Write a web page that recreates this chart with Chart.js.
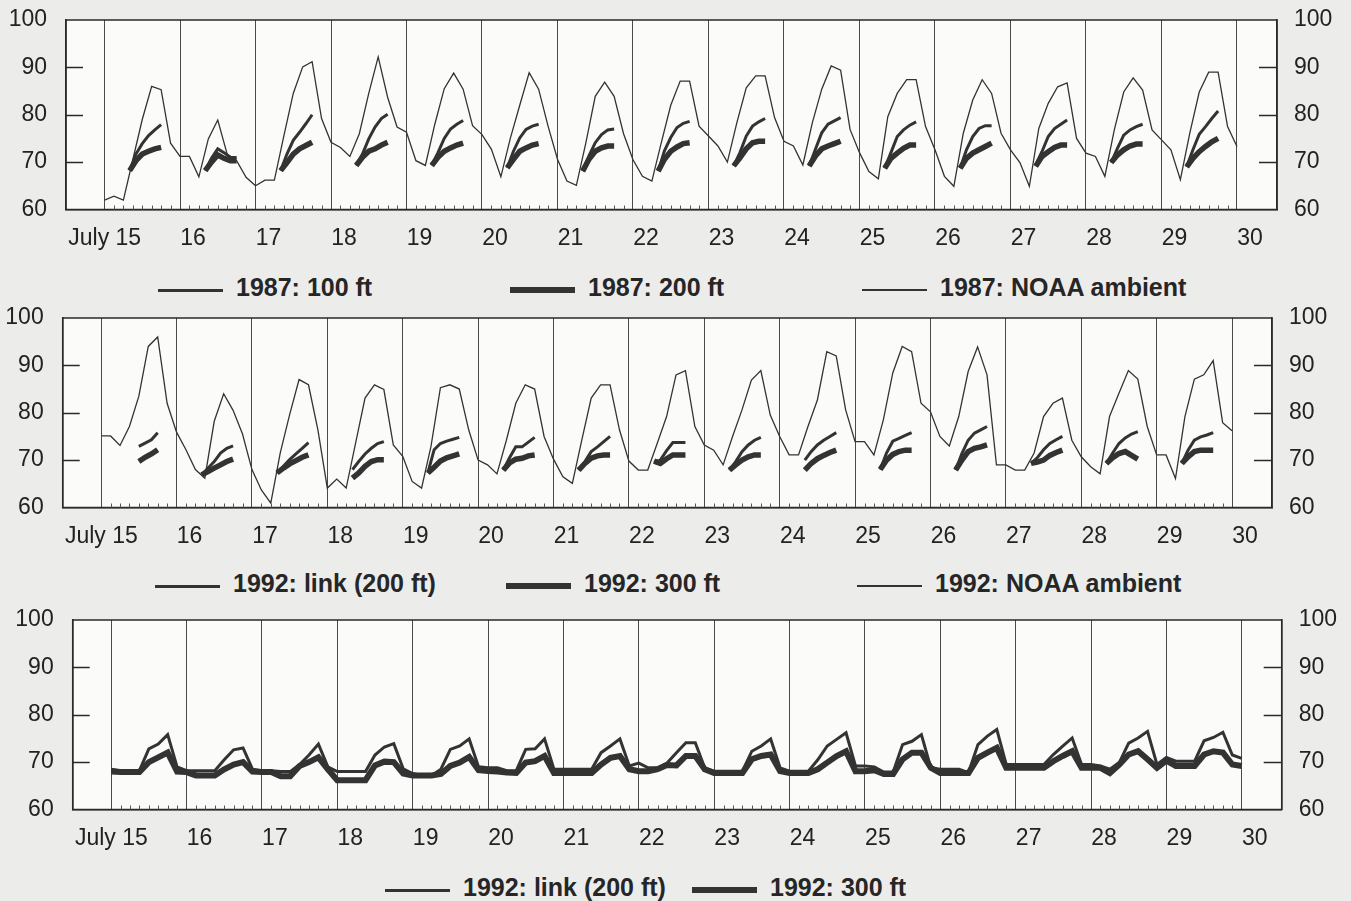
<!DOCTYPE html>
<html>
<head>
<meta charset="utf-8">
<title>Water temperature, July 15-30</title>
<script src="https://cdn.jsdelivr.net/npm/chart.js@4.4.1/dist/chart.umd.min.js"></script>
<style>
  html, body { margin: 0; padding: 0; background: #ececea; }
  body { width: 1351px; height: 901px; position: relative; overflow: hidden;
         font-family: 'Liberation Sans', Arial, sans-serif; }
  .panel { position: absolute; left: 0; width: 1351px; }
  .legend { position: absolute; left: 0; width: 1351px; height: 30px; }
  .legend-item { position: absolute; top: 0; height: 30px; display: flex; align-items: center;
                 white-space: nowrap; font-weight: bold; font-size: 25px; color: #262626; }
  .legend-line { display: inline-block; width: 65px; margin-right: 13px; position: relative; top: 3px; }
</style>
</head>
<body>
<div class="panel" id="p1" style="top:0px;height:268px"><canvas id="c1"></canvas></div>
<div class="legend" id="l1" style="top:272px"></div>
<div class="panel" id="p2" style="top:298px;height:268px"><canvas id="c2"></canvas></div>
<div class="legend" id="l2" style="top:568px"></div>
<div class="panel" id="p3" style="top:600px;height:268px"><canvas id="c3"></canvas></div>
<div class="legend" id="l3" style="top:872px"></div>

<script>
// ---- data ----
// one row per day, July 15 .. July 29
const DAYS = [15, 16, 17, 18, 19, 20, 21, 22, 23, 24, 25, 26, 27, 28, 29];
const STEP_HOURS = [0, 3, 6, 9, 12, 15, 18, 21];      // 3-hourly series
const PROBE_HOURS = [8, 10, 12, 14, 16, 18];           // daytime probe readings
const TICK_DAYS = [15, 16, 17, 18, 19, 20, 21, 22, 23, 24, 25, 26, 27, 28, 29, 30];
const TICK_LABELS = ['July 15', '16', '17', '18', '19', '20', '21', '22', '23', '24', '25', '26', '27', '28', '29', '30'];

// 1987
const noaa1987 = [
  [62.0, 62.8, 62.0, 70.5, 79.0, 86.0, 85.3, 74.0],
  [71.2, 71.2, 66.9, 74.9, 78.9, 71.7, 70.3, 66.8],
  [65.0, 66.2, 66.2, 75.5, 84.5, 90.1, 91.2, 79.2],
  [74.2, 73.1, 71.2, 76.0, 84.5, 92.2, 83.7, 77.4],
  [76.3, 70.3, 69.3, 78.0, 85.5, 88.8, 85.4, 77.7],
  [75.8, 72.7, 66.9, 75.0, 82.0, 88.9, 85.4, 77.6],
  [70.6, 66.0, 65.1, 74.0, 83.9, 86.9, 83.9, 76.0],
  [70.5, 67.0, 66.0, 74.1, 82.0, 87.1, 87.1, 77.6],
  [75.5, 73.4, 70.0, 78.3, 85.7, 88.2, 88.2, 79.4],
  [74.4, 73.4, 69.4, 78.3, 85.4, 90.3, 89.4, 76.9],
  [72.0, 68.0, 66.5, 79.6, 84.5, 87.4, 87.4, 77.5],
  [72.6, 67.0, 64.9, 76.1, 83.1, 87.4, 84.5, 76.1],
  [72.6, 69.9, 64.9, 77.1, 82.4, 85.9, 86.7, 75.0],
  [71.9, 71.2, 67.0, 76.8, 84.8, 87.8, 85.2, 76.8],
  [74.7, 72.6, 66.3, 76.1, 84.8, 89.0, 89.0, 77.5]
];
const noaa1987End = 73.3;

const ft100_1987 = [
  [68.2, 71.7, 73.9, 75.6, 76.8, 77.9],
  [68.2, 70.8, 72.8, 72.0, 71.0, 71.0],
  [68.2, 71.7, 74.6, 76.3, 78.1, 80.0],
  [69.3, 71.7, 74.9, 77.4, 79.2, 80.1],
  [69.3, 72.0, 75.0, 77.0, 78.0, 78.8],
  [68.8, 72.3, 75.1, 76.9, 77.6, 78.0],
  [68.1, 71.3, 74.1, 75.8, 76.8, 77.0],
  [68.1, 72.4, 75.2, 77.3, 78.2, 78.6],
  [69.2, 72.0, 75.5, 77.6, 78.5, 79.2],
  [69.2, 72.7, 76.2, 78.0, 78.7, 79.4],
  [68.7, 72.0, 75.4, 76.8, 77.8, 78.5],
  [68.7, 72.6, 75.4, 77.1, 77.7, 77.7],
  [69.4, 72.2, 75.4, 77.1, 78.0, 78.9],
  [69.9, 72.9, 75.7, 76.8, 77.5, 78.0],
  [69.0, 72.6, 75.9, 77.5, 79.2, 80.8]
];

const ft200_1987 = [
  [68.2, 70.3, 71.7, 72.3, 72.8, 73.1],
  [68.2, 70.0, 71.5, 70.8, 70.3, 70.3],
  [68.2, 69.9, 71.7, 72.8, 73.5, 74.2],
  [69.3, 71.0, 72.3, 72.8, 73.6, 74.2],
  [69.3, 71.0, 72.3, 73.0, 73.6, 74.0],
  [68.8, 70.6, 72.3, 73.0, 73.6, 73.9],
  [68.1, 70.6, 72.3, 73.0, 73.4, 73.4],
  [68.1, 70.6, 72.3, 73.2, 73.9, 74.1],
  [69.2, 70.9, 72.8, 74.1, 74.4, 74.4],
  [69.2, 71.3, 72.8, 73.4, 73.9, 74.4],
  [68.7, 70.8, 71.9, 72.9, 73.6, 73.6],
  [68.7, 70.8, 71.9, 72.6, 73.3, 74.0],
  [69.1, 71.2, 72.2, 73.1, 73.6, 73.6],
  [69.9, 71.5, 72.6, 73.4, 73.8, 73.8],
  [69.0, 70.8, 72.2, 73.3, 74.3, 75.0]
];

// 1992
const noaa1992 = [
  [75.1, 75.1, 73.1, 77.1, 83.5, 94.0, 96.0, 82.0],
  [75.9, 72.2, 68.0, 66.2, 78.2, 84.0, 80.5, 75.5],
  [68.0, 63.7, 60.9, 71.5, 79.6, 87.0, 85.9, 76.4],
  [64.1, 66.0, 64.1, 73.6, 83.1, 85.9, 84.9, 73.2],
  [70.8, 65.5, 64.1, 72.9, 85.3, 85.9, 85.0, 76.4],
  [70.0, 69.0, 67.1, 74.2, 82.0, 85.9, 85.0, 75.0],
  [70.2, 66.5, 65.1, 74.2, 83.1, 85.9, 85.9, 76.4],
  [69.8, 67.9, 67.9, 73.5, 79.2, 88.0, 88.9, 77.1],
  [73.2, 72.1, 69.0, 75.0, 80.6, 86.9, 88.9, 79.5],
  [75.0, 71.1, 71.1, 77.1, 82.7, 92.9, 92.0, 80.6],
  [73.9, 73.9, 71.1, 78.5, 88.4, 94.0, 92.9, 82.0],
  [80.2, 75.0, 73.0, 79.2, 88.7, 93.9, 88.0, 69.0],
  [69.0, 67.9, 67.9, 71.5, 79.2, 82.0, 83.1, 74.2],
  [70.7, 68.6, 67.1, 79.2, 84.1, 88.9, 87.1, 77.1],
  [71.1, 71.1, 66.1, 79.2, 87.1, 88.0, 91.0, 77.9]
];
const noaa1992End = 76.2;

const link_1992 = [
  [null, null, 72.9, 73.6, 74.3, 75.8],
  [66.9, 68.3, 69.7, 71.5, 72.5, 73.0],
  [67.3, 68.7, 70.1, 71.3, 72.5, 73.7],
  [68.0, 69.7, 71.3, 72.5, 73.5, 73.9],
  [67.3, 72.2, 73.5, 74.0, 74.4, 74.8],
  [67.9, 70.5, 72.8, 72.8, 73.8, 74.8],
  [67.9, 69.7, 71.8, 72.8, 73.9, 75.0],
  [69.5, 70.0, 72.0, 73.7, 73.7, 73.7],
  [67.9, 69.7, 71.8, 73.2, 74.2, 74.8],
  [70.0, 71.8, 73.2, 74.2, 75.0, 75.8],
  [68.0, 71.5, 74.0, 74.6, 75.2, 75.8],
  [67.9, 71.4, 74.2, 75.7, 76.4, 77.1],
  [69.3, 70.5, 72.2, 73.5, 74.3, 75.0],
  [69.3, 71.5, 73.5, 74.7, 75.5, 76.0],
  [69.3, 72.1, 74.2, 74.9, 75.3, 75.8]
];

const ft300_1992 = [
  [null, null, 69.7, 70.6, 71.3, 72.2],
  [66.9, 67.6, 68.3, 69.0, 69.7, 70.2],
  [67.3, 68.3, 69.2, 69.9, 70.6, 71.1],
  [66.2, 67.3, 68.7, 69.7, 70.1, 70.1],
  [67.3, 68.5, 69.8, 70.5, 70.9, 71.3],
  [67.9, 69.4, 70.2, 70.4, 70.9, 71.1],
  [67.9, 69.3, 70.4, 70.9, 71.1, 71.1],
  [69.8, 69.3, 70.3, 71.1, 71.1, 71.1],
  [67.9, 69.0, 70.0, 70.7, 71.1, 71.1],
  [67.9, 69.3, 70.3, 71.0, 71.6, 72.1],
  [68.0, 70.0, 71.2, 71.8, 72.1, 72.1],
  [67.9, 70.0, 71.8, 72.5, 72.8, 73.2],
  [69.3, 69.6, 70.0, 71.0, 71.6, 72.1],
  [69.3, 70.5, 71.4, 71.8, 71.0, 70.2],
  [69.3, 70.7, 71.8, 72.1, 72.1, 72.1]
];

// 1992 continuous records (3-hourly)
const link_1992_cont = [
  [68.5, 68.2, 68.2, 68.2, 72.8, 73.8, 75.8, 69.0],
  [68.2, 68.2, 68.2, 68.2, 70.5, 72.6, 73.0, 68.5],
  [68.2, 68.2, 68.0, 68.0, 69.5, 71.5, 73.8, 69.0],
  [68.0, 68.0, 68.0, 68.0, 71.5, 73.2, 73.9, 68.6],
  [67.6, 67.2, 67.2, 68.5, 72.7, 73.4, 74.9, 69.0],
  [68.8, 68.8, 68.2, 68.2, 72.7, 72.8, 74.9, 68.5],
  [68.5, 68.5, 68.5, 68.5, 72.0, 73.4, 74.9, 69.2],
  [69.8, 68.8, 68.8, 69.8, 72.0, 74.1, 74.1, 68.8],
  [68.1, 68.1, 68.1, 68.1, 72.3, 73.4, 74.9, 68.8],
  [68.1, 68.1, 68.1, 70.5, 73.4, 74.8, 76.2, 69.2],
  [69.2, 69.0, 67.9, 67.9, 73.7, 74.4, 75.8, 68.8],
  [68.5, 68.5, 68.5, 67.8, 73.7, 75.5, 76.9, 69.5],
  [69.5, 69.5, 69.5, 69.5, 71.6, 73.4, 75.1, 69.5],
  [69.5, 69.2, 68.5, 69.9, 74.0, 75.1, 76.5, 69.5],
  [71.0, 70.2, 70.2, 70.2, 74.5, 75.2, 76.3, 71.5]
];
const link_1992_contEnd = 70.8;

const ft300_1992_cont = [
  [68.0, 67.9, 67.9, 67.9, 70.0, 71.0, 72.0, 68.0],
  [67.9, 67.2, 67.2, 67.2, 68.5, 69.5, 70.0, 68.0],
  [67.9, 67.9, 67.0, 67.0, 69.2, 70.0, 71.0, 68.5],
  [66.2, 66.2, 66.2, 66.2, 69.3, 70.1, 70.0, 67.6],
  [67.2, 67.2, 67.2, 67.5, 69.2, 69.9, 71.1, 68.3],
  [68.1, 68.0, 67.8, 67.7, 69.9, 70.2, 71.3, 67.7],
  [67.7, 67.7, 67.7, 67.7, 69.5, 70.9, 71.3, 68.5],
  [68.1, 68.1, 68.5, 69.4, 69.3, 71.3, 71.3, 68.5],
  [67.7, 67.7, 67.7, 67.7, 70.6, 71.3, 71.6, 68.1],
  [67.7, 67.7, 67.7, 68.5, 69.9, 71.3, 72.3, 68.1],
  [68.1, 68.3, 67.5, 67.5, 70.6, 72.0, 72.0, 68.8],
  [67.7, 67.7, 67.7, 67.7, 70.9, 72.0, 73.0, 68.8],
  [68.8, 68.8, 68.8, 68.8, 70.2, 71.3, 72.3, 68.8],
  [68.8, 68.8, 67.7, 69.5, 71.6, 72.3, 70.6, 68.8],
  [70.3, 69.2, 69.2, 69.2, 71.6, 72.3, 72.0, 69.5]
];
const ft300_1992_contEnd = 69.2;

// ---- helpers ----
const INK = '#333333';
const tickFont = { family: "'Liberation Sans', Arial, sans-serif", size: 23 };

// continuous 3-hourly record, closed with the July 30 midnight value
function continuous(rows, endValue) {
  const pts = [];
  rows.forEach((row, i) => {
    row.forEach((v, j) => pts.push({ x: DAYS[i] + STEP_HOURS[j] / 24, y: v }));
  });
  pts.push({ x: 30, y: endValue });
  return pts;
}

// daytime-only readings, broken between days
function daily(rows) {
  const pts = [];
  rows.forEach((row, i) => {
    row.forEach((v, j) => {
      if (v !== null) pts.push({ x: DAYS[i] + PROBE_HOURS[j] / 24, y: v });
    });
    pts.push({ x: DAYS[i] + 0.9, y: null });
  });
  return pts;
}

// frame, inside ticks and 3-hour marks
const framePlugin = {
  id: 'frame',
  beforeDraw(chart) {
    const { ctx, chartArea: a } = chart;
    ctx.save();
    ctx.fillStyle = '#fbfbfa';
    ctx.fillRect(a.left, a.top, a.right - a.left, a.bottom - a.top);
    ctx.restore();
  },
  afterDraw(chart) {
    const { ctx, chartArea: a, scales } = chart;
    const x = scales.x, y = scales.y;
    ctx.save();
    ctx.strokeStyle = '#2a2a2a';
    ctx.lineWidth = 1.5;
    ctx.strokeRect(a.left, a.top, a.right - a.left, a.bottom - a.top);

    ctx.lineWidth = 1.3;
    ctx.beginPath();
    [70, 80, 90].forEach(v => {
      const py = Math.round(y.getPixelForValue(v)) + 0.5;
      ctx.moveTo(a.left, py); ctx.lineTo(a.left + 17, py);
      ctx.moveTo(a.right - 18, py); ctx.lineTo(a.right, py);
    });
    ctx.stroke();

    ctx.lineWidth = 1;
    ctx.strokeStyle = '#555';
    ctx.beginPath();
    DAYS.forEach(d => {
      STEP_HOURS.slice(1).forEach(h => {
        const px = Math.round(x.getPixelForValue(d + h / 24)) + 0.5;
        ctx.moveTo(px, a.bottom); ctx.lineTo(px, a.bottom - 4);
      });
    });
    ctx.stroke();
    ctx.restore();
  }
};

// value axis: fixed width, and no label overhang pushed into the layout
function fixValueAxis(width) {
  return s => {
    s.width = width;
    s.paddingTop = 0;
    s.paddingBottom = 0;
  };
}

// day labels sit just right of their line; the first one is centred on it,
// so pad it with trailing spaces to pull it back
function dayLabel(v, i) {
  return i === 0 ? TICK_LABELS[i] + '\u00a0\u00a0\u00a0\u00a0' : TICK_LABELS[i];
}

function makePanel(canvasId, box, datasets) {
  return new Chart(document.getElementById(canvasId), {
    type: 'line',
    data: { datasets },
    options: {
      responsive: true,
      maintainAspectRatio: false,
      animation: false,
      layout: { padding: { top: box.top - box.canvasTop, left: 0, right: 0, bottom: 0 } },
      plugins: { legend: { display: false }, tooltip: { enabled: false } },
      elements: {
        point: { radius: 0 },
        line: { tension: 0, borderCapStyle: 'butt', borderJoinStyle: 'miter' }
      },
      scales: {
        x: {
          type: 'linear',
          min: 14.49,
          max: 30.53,
          afterBuildTicks: s => { s.ticks = TICK_DAYS.map(v => ({ value: v })); },
          afterFit: s => { s.height = box.canvasTop + box.canvasHeight - box.bottom; },
          grid: { color: '#4a4a4a', lineWidth: 1, drawTicks: false },
          border: { color: '#2a2a2a', width: 1.5 },
          ticks: {
            autoSkip: false, maxRotation: 0, labelOffset: 13, padding: 15,
            font: tickFont, color: '#222',
            callback: dayLabel
          }
        },
        y: {
          position: 'left',
          min: 60, max: 100,
          afterFit: fixValueAxis(box.left),
          grid: { display: false, drawTicks: false },
          border: { color: '#2a2a2a', width: 1.5 },
          ticks: { stepSize: 10, padding: 19, font: tickFont, color: '#222' }
        },
        y2: {
          position: 'right',
          min: 60, max: 100,
          afterFit: fixValueAxis(1351 - box.right),
          grid: { display: false, drawTicks: false },
          border: { color: '#2a2a2a', width: 1.5 },
          ticks: { stepSize: 10, padding: 17, font: tickFont, color: '#222' }
        }
      }
    },
    plugins: [framePlugin]
  });
}

function buildLegend(chart, elId, lefts) {
  const el = document.getElementById(elId);
  chart.data.datasets.forEach((ds, i) => {
    const item = document.createElement('div');
    item.className = 'legend-item';
    item.style.left = lefts[i] + 'px';
    const line = document.createElement('span');
    line.className = 'legend-line';
    line.style.height = ds.legendWidth + 'px';
    line.style.background = ds.borderColor;
    const txt = document.createElement('span');
    txt.textContent = ds.label;
    item.append(line, txt);
    el.appendChild(item);
  });
}

// ---- panels ----
const chart1 = makePanel('c1',
  { canvasTop: 0, canvasHeight: 268, top: 20, bottom: 209.5, left: 66, right: 1277 },
  [
    { label: '1987: 100 ft', data: daily(ft100_1987), borderColor: INK, borderWidth: 3, legendWidth: 3 },
    { label: '1987: 200 ft', data: daily(ft200_1987), borderColor: INK, borderWidth: 5.5, legendWidth: 6 },
    { label: '1987: NOAA ambient', data: continuous(noaa1987, noaa1987End), borderColor: INK, borderWidth: 1.3, legendWidth: 1.5 }
  ]);
buildLegend(chart1, 'l1', [158, 510, 862]);

const chart2 = makePanel('c2',
  { canvasTop: 298, canvasHeight: 268, top: 318, bottom: 507.5, left: 62.7, right: 1272 },
  [
    { label: '1992: link (200 ft)', data: daily(link_1992), borderColor: INK, borderWidth: 3, legendWidth: 3 },
    { label: '1992: 300 ft', data: daily(ft300_1992), borderColor: INK, borderWidth: 5.5, legendWidth: 6 },
    { label: '1992: NOAA ambient', data: continuous(noaa1992, noaa1992End), borderColor: INK, borderWidth: 1.3, legendWidth: 1.5 }
  ]);
buildLegend(chart2, 'l2', [155, 506, 857]);

const chart3 = makePanel('c3',
  { canvasTop: 600, canvasHeight: 268, top: 620, bottom: 809.5, left: 72.7, right: 1281.7 },
  [
    { label: '1992: link (200 ft)', data: continuous(link_1992_cont, link_1992_contEnd), borderColor: INK, borderWidth: 3, legendWidth: 3 },
    { label: '1992: 300 ft', data: continuous(ft300_1992_cont, ft300_1992_contEnd), borderColor: INK, borderWidth: 6, legendWidth: 6 }
  ]);
buildLegend(chart3, 'l3', [385, 692]);
</script>
</body>
</html>
